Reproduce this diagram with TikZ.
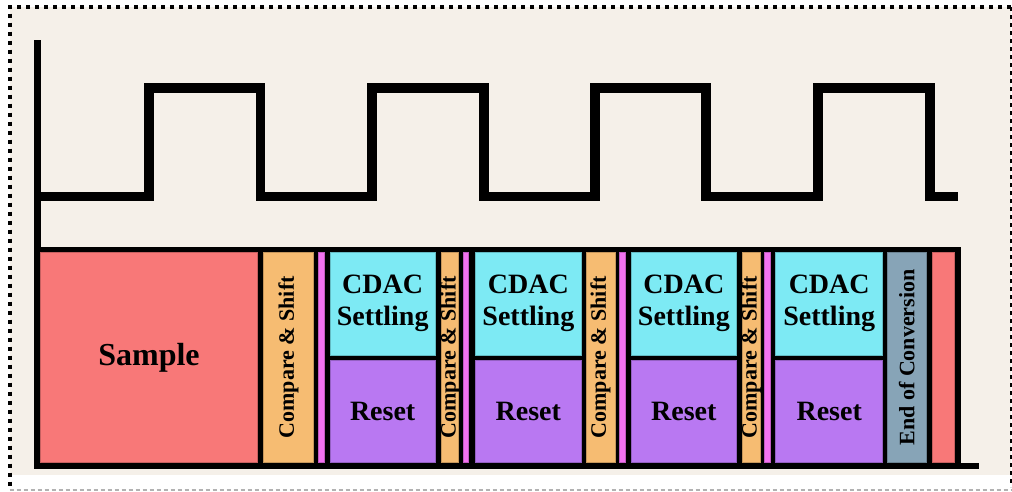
\documentclass[tikz,border=0pt]{standalone}
\usepackage{fontspec}
\setmainfont{Liberation Serif}
\definecolor{bg}{HTML}{F5F0E9}
\definecolor{cred}{HTML}{F87878}
\definecolor{corange}{HTML}{F6BC72}
\definecolor{ccyan}{HTML}{7DEAF4}
\definecolor{cpurple}{HTML}{B978F2}
\definecolor{cpink}{HTML}{F272F0}
\definecolor{cgray}{HTML}{87A4B7}
\tikzset{
  box/.style={rectangle, inner sep=0pt, outer sep=0pt, fill=#1, draw=#1!80!black, line width=0.6pt},
  big/.style={font=\bfseries\fontsize{32}{35}\selectfont, align=center},
  mid/.style={font=\bfseries\fontsize{28}{32}\selectfont, align=center},
  rot/.style={font=\bfseries\fontsize{22}{24}\selectfont, rotate=90, inner sep=0pt},
  full/.style={minimum height=210.7pt},
  up/.style={minimum height=103pt},
  down/.style={minimum height=102pt},
}
\begin{document}
\begin{tikzpicture}[x=1pt,y=-1pt]
\useasboundingbox (0,0) rectangle (1012,491);
\fill[white] (0,0) rectangle (1012,491);
\fill[bg] (9.5,7) rectangle (1011,475);
% borders
\draw[line width=4pt, dash pattern=on 4pt off 5pt] (1011,7) -- (9.5,7) -- (9.5,486);
\draw[line width=3pt, dash pattern=on 4pt off 4pt] (1011,7) -- (1011,487);
\draw[black!30, line width=1.3pt, dash pattern=on 4pt off 3pt] (9.5,490) -- (1011,490);
% axis and black frame
\fill[black] (34.3,40) rectangle (40.7,469);
\fill[black] (34.3,247.3) rectangle (960.7,469);
\fill[black] (34.3,463) rectangle (979,469);
% clock
\draw[line width=9.5pt, line join=miter] (40.7,196.5) -- (149,196.5) -- (149,88) -- (260.5,88) -- (260.5,196.5)
  -- (372,196.5) -- (372,88) -- (484,88) -- (484,196.5)
  -- (595,196.5) -- (595,88) -- (706,88) -- (706,196.5)
  -- (818,196.5) -- (818,88) -- (930,88) -- (930,196.5) -- (958,196.5);
% boxes
\node[box=cred, full, minimum width=216.6pt, big] (sample) at (149,357.35) {Sample};
\node[box=corange, full, minimum width=50.4pt] (cs1) at (288.5,357.35) {};
\node[box=cpink, full, minimum width=5.7pt] (p1) at (321.15,357.35) {};
\node[box=ccyan, up, minimum width=105.3pt, mid] (cd1) at (382.65,303.5) {CDAC\\Settling};
\node[box=cpurple, down, minimum width=105.3pt, mid] (rs1) at (382.65,411.7) {Reset};
\node[box=corange, full, minimum width=17pt] (cs2) at (450.2,357.35) {};
\node[box=cpink, full, minimum width=5.4pt] (p2) at (466,357.35) {};
\node[box=ccyan, up, minimum width=106.7pt, mid] (cd2) at (528.35,303.5) {CDAC\\Settling};
\node[box=cpurple, down, minimum width=106.7pt, mid] (rs2) at (528.35,411.7) {Reset};
\node[box=corange, full, minimum width=29pt] (cs3) at (600.5,357.35) {};
\node[box=cpink, full, minimum width=6pt] (p3) at (622.3,357.35) {};
\node[box=ccyan, up, minimum width=105.7pt, mid] (cd3) at (683.85,303.5) {CDAC\\Settling};
\node[box=cpurple, down, minimum width=105.7pt, mid] (rs3) at (683.85,411.7) {Reset};
\node[box=corange, full, minimum width=17.7pt] (cs4) at (751.15,357.35) {};
\node[box=cpink, full, minimum width=5.7pt] (p4) at (767.15,357.35) {};
\node[box=ccyan, up, minimum width=107pt, mid] (cd4) at (829.2,303.5) {CDAC\\Settling};
\node[box=cpurple, down, minimum width=107pt, mid] (rs4) at (829.2,411.7) {Reset};
\node[box=cgray, full, minimum width=38.7pt] (eoc) at (906.65,357.35) {};
\node[box=cred, full, minimum width=22.3pt] (r2) at (943.15,357.35) {};
% rotated labels
\node[rot] (t1) at (cs1) {Compare \& Shift};
\node[rot] (t2) at (cs2) {Compare \& Shift};
\node[rot] (t3) at (cs3) {Compare \& Shift};
\node[rot] (t4) at (cs4) {Compare \& Shift};
\node[rot] (t5) at (eoc) {End of Conversion};
\end{tikzpicture}
\end{document}
